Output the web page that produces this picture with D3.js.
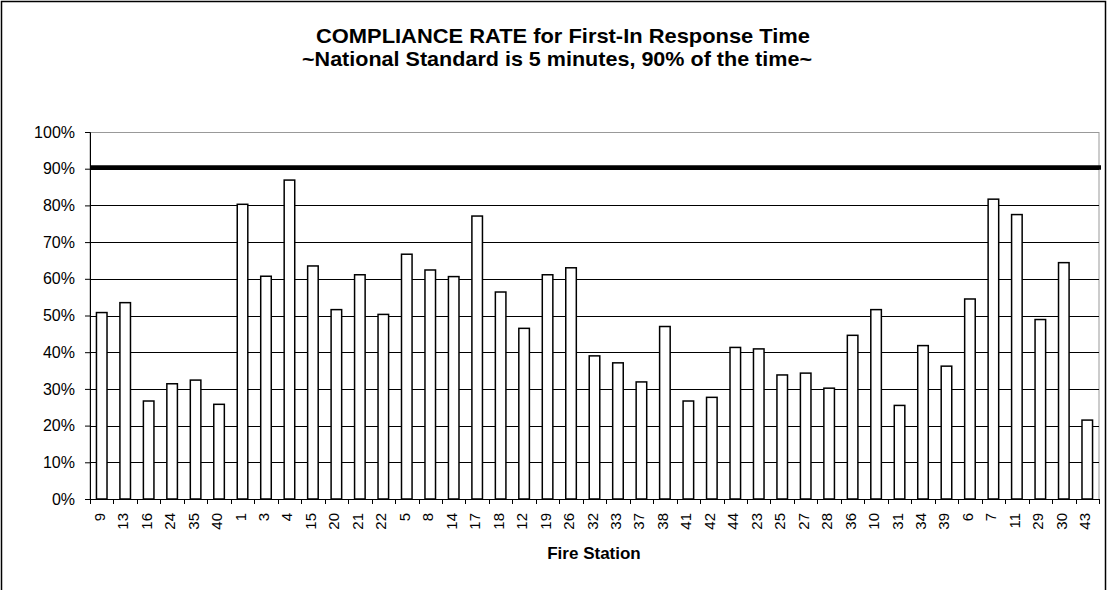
<!DOCTYPE html>
<html>
<head>
<meta charset="utf-8">
<script src="https://cdn.jsdelivr.net/npm/d3@7"></script>
<style>
  body { margin: 0; background: #fff; }
  text { font-family: "Liberation Sans", Arial, sans-serif; }
</style>
</head>
<body>
<div id="chart"></div>
<script>
var stations = ["9","13","16","24","35","40","1","3","4","15","20","21","22","5","8","14","17","18","12","19","26",
                "32","33","37","38","41","42","44","23","25","27","28","36","10","31","34","39","6","7","11","29","30","43"];
var compliance = [50.8,53.5,26.7,31.4,32.4,25.8,80.3,60.7,86.9,63.5,51.6,61.1,50.3,66.7,62.4,60.6,77.1,56.4,46.5,61.1,63.0,
                  39.0,37.1,31.9,47.0,26.7,27.7,41.3,40.9,33.8,34.3,30.2,44.6,51.6,25.5,41.8,36.2,54.5,81.7,77.5,48.9,64.4,21.5];
var standard = 90.3;
var yTicks = [0,10,20,30,40,50,60,70,80,90,100];

var width = 1107, height = 590;
var plotLeft = 90, plotRight = 1099, plotTop = 132, plotBottom = 499;

var svg = d3.select("#chart").append("svg")
    .attr("width", width)
    .attr("height", height);

//outer chart border
svg.append("rect")
    .attr("x", 1.5).attr("y", 1.5)
    .attr("width", 1104).attr("height", 620)
    .attr("fill", "none").attr("stroke", "#000").attr("stroke-width", 1.5);

var x = d3.scaleBand().domain(stations).range([plotLeft, plotRight]).paddingInner(0.55).paddingOuter(0.275);
var xb = d3.scaleBand().domain(stations).range([plotLeft, plotRight]);
var y = d3.scaleLinear().domain([0, 100]).range([plotBottom, plotTop]);

//plot area frame (gray)
svg.append("rect")
    .attr("x", plotLeft).attr("y", plotTop + 0.5)
    .attr("width", plotRight - plotLeft).attr("height", plotBottom - plotTop)
    .attr("fill", "none").attr("stroke", "#999").attr("stroke-width", 1);

//gridlines
svg.selectAll("line.grid")
    .data(yTicks.filter(function(d){ return d > 0 && d < 100; }))
    .enter().append("line")
    .attr("class", "grid")
    .attr("x1", plotLeft).attr("x2", plotRight)
    .attr("y1", function(d){ return Math.round(y(d)) + 0.5; })
    .attr("y2", function(d){ return Math.round(y(d)) + 0.5; })
    .attr("stroke", "#000").attr("stroke-width", 1);

//bars
svg.selectAll("rect.bar")
    .data(compliance)
    .enter().append("rect")
    .attr("class", "bar")
    .attr("x", function(d, i){ return x(stations[i]); })
    .attr("width", x.bandwidth())
    .attr("y", function(d){ return y(d); })
    .attr("height", function(d){ return plotBottom - y(d); })
    .attr("fill", "#fff").attr("stroke", "#000").attr("stroke-width", 1.5);

//standard line
svg.append("line")
    .attr("x1", plotLeft).attr("x2", plotRight + 2)
    .attr("y1", y(standard)).attr("y2", y(standard))
    .attr("stroke", "#000").attr("stroke-width", 4.5);

//y axis
var yAxis = d3.axisLeft(y).tickValues(yTicks).tickSize(5).tickPadding(10)
    .tickFormat(function(d){ return d + "%"; });
var gy = svg.append("g").attr("transform", "translate(" + plotLeft + ",0)").call(yAxis);
gy.select(".domain").attr("stroke", "#000");
gy.selectAll("line").attr("stroke", "#000");
gy.selectAll("text").attr("font-size", 16).attr("fill", "#000")
    .attr("font-family", "Liberation Sans, Arial, sans-serif");

//x axis: ticks between categories
svg.append("line")
    .attr("x1", plotLeft).attr("x2", plotRight)
    .attr("y1", plotBottom + 0.5).attr("y2", plotBottom + 0.5)
    .attr("stroke", "#000");
svg.selectAll("line.xtick")
    .data(stations.concat(["end"]))
    .enter().append("line")
    .attr("class", "xtick")
    .attr("x1", function(d, i){ return Math.round(plotLeft + i * xb.bandwidth()) + 0.5; })
    .attr("x2", function(d, i){ return Math.round(plotLeft + i * xb.bandwidth()) + 0.5; })
    .attr("y1", plotBottom).attr("y2", plotBottom + 5)
    .attr("stroke", "#000");

svg.selectAll("text.xlab")
    .data(stations)
    .enter().append("text")
    .attr("class", "xlab")
    .attr("transform", function(d){
        return "translate(" + (xb(d) + xb.bandwidth() / 2 + 3) + "," + (plotBottom + 14) + ") rotate(-90)";
    })
    .attr("text-anchor", "end")
    .attr("font-size", 15)
    .text(function(d){ return d; });

//titles
svg.append("text")
    .attr("x", 563).attr("y", 43)
    .attr("text-anchor", "middle")
    .attr("font-size", 21).attr("font-weight", "bold")
    .attr("textLength", 494).attr("lengthAdjust", "spacingAndGlyphs")
    .text("COMPLIANCE RATE for First-In Response Time");
svg.append("text")
    .attr("x", 557).attr("y", 66)
    .attr("text-anchor", "middle")
    .attr("font-size", 21).attr("font-weight", "bold")
    .attr("textLength", 510).attr("lengthAdjust", "spacingAndGlyphs")
    .text("~National Standard is 5 minutes, 90% of the time~");

svg.append("text")
    .attr("x", 594).attr("y", 559)
    .attr("text-anchor", "middle")
    .attr("font-size", 17).attr("font-weight", "bold")
    .text("Fire Station");
</script>
</body>
</html>
